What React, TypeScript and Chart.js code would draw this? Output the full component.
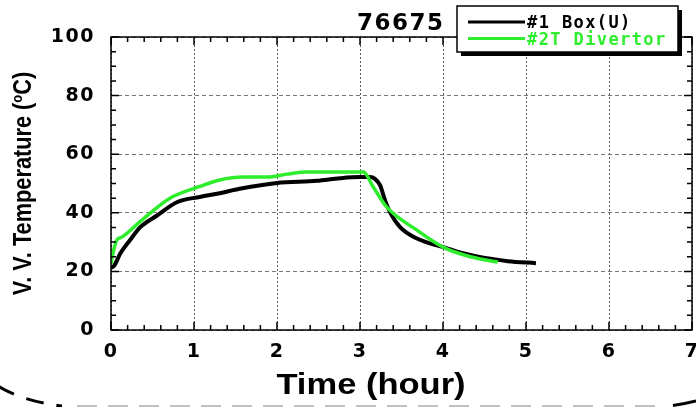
import { useEffect, useRef } from "react";
import { Chart, registerables } from "chart.js";

Chart.register(...registerables);

// Vacuum-vessel temperature during the bake, shot 76675
const shotNumber = "76675";
const seriesNames = ["#1 Box(U)", "#2T Divertor"];
const seriesColors = ["#000000", "#2ded2d"];

// #1 Box(U)
const boxTime = [0, 0.04, 0.11, 0.23, 0.35, 0.55, 0.8, 1.07, 1.31, 1.55, 2.0, 2.48, 2.76, 3.0, 3.12, 3.18, 3.24, 3.3, 3.36, 3.48, 3.68, 4.0, 4.24, 4.38, 4.78, 5.12];
const boxTemp = [21.2, 22, 26, 30.7, 35, 39, 43.7, 45.4, 46.7, 48.2, 50.2, 50.9, 51.8, 52.2, 52.2, 51.6, 49.5, 44.4, 40.3, 35.2, 31.3, 28.3, 26.2, 25.3, 23.5, 22.8];

// #2T Divertor
const divTime = [0, 0.03, 0.07, 0.13, 0.35, 0.71, 1.07, 1.31, 1.59, 1.88, 2.12, 2.36, 3.04, 3.16, 3.32, 3.69, 4.0, 4.33, 4.66];
const divTemp = [22.5, 27, 30.7, 31.7, 37, 45, 49, 51.2, 52.2, 52.2, 53.2, 53.9, 53.9, 48.8, 42, 34, 28.3, 25, 23.2];

// Axis ranges and tick steps
const xMin = 0, xMax = 7, xStep = 1, xMinorStep = 0.2;
const yMin = 0, yMax = 100, yStep = 20, yMinorStep = 5;
const xTitle = "Time (hour)";
const yTitleMain = "V. V. Temperature (";
const yTitleSup = "o";
const yTitleEnd = "C)";

const W = 696;
const H = 407;

const toPoints = (xs: number[], ys: number[]) => xs.map((x, i) => ({ x, y: ys[i] }));

const tickFont = { family: "'DejaVu Sans'", weight: "bold" as const, size: 19 };

const framePlugin = {
  id: "frameAndTicks",
  beforeDraw(chart: any) {
    chart.ctx.letterSpacing = "1.5px";
  },
  afterDatasetsDraw(chart: any) {
    const { ctx, chartArea } = chart;
    const { left, right, top, bottom } = chartArea;
    const xs = chart.scales.x;
    const ys = chart.scales.y;
    ctx.save();
    ctx.strokeStyle = "#000";
    ctx.lineWidth = 1.5;
    ctx.setLineDash([]);
    ctx.beginPath();
    const nx = Math.round((xMax - xMin) / xMinorStep);
    for (let i = 0; i <= nx; i++) {
      const v = xMin + i * xMinorStep;
      const px = xs.getPixelForValue(v);
      const len = i % Math.round(xStep / xMinorStep) === 0 ? 8 : 5;
      ctx.moveTo(px, bottom);
      ctx.lineTo(px, bottom - len);
      ctx.moveTo(px, top);
      ctx.lineTo(px, top + len);
    }
    const ny = Math.round((yMax - yMin) / yMinorStep);
    for (let i = 0; i <= ny; i++) {
      const v = yMin + i * yMinorStep;
      const py = ys.getPixelForValue(v);
      const len = i % Math.round(yStep / yMinorStep) === 0 ? 8 : 5;
      ctx.moveTo(left, py);
      ctx.lineTo(left + len, py);
      ctx.moveTo(right, py);
      ctx.lineTo(right - len, py);
    }
    ctx.stroke();
    ctx.strokeRect(left, top, right - left, bottom - top);
    ctx.restore();
  },
  afterDraw(chart: any) {
    const { ctx, chartArea } = chart;
    const { top, bottom } = chartArea;
    ctx.save();
    ctx.setLineDash([]);
    ctx.fillStyle = "#000";

    // y-axis title, rotated, with superscript degree mark
    ctx.letterSpacing = "0px";
    ctx.save();
    ctx.translate(22, (top + bottom) / 2);
    ctx.rotate(-Math.PI / 2);
    ctx.scale(0.87, 1);
    const mainFont = "bold 25px 'Liberation Sans'";
    const supFont = "bold 15px 'Liberation Sans'";
    ctx.font = mainFont;
    const wa = ctx.measureText(yTitleMain).width;
    const wc = ctx.measureText(yTitleEnd).width;
    ctx.font = supFont;
    const wo = ctx.measureText(yTitleSup).width;
    const total = wa + wo + wc;
    const base = 9;
    let x0 = -total / 2;
    ctx.textBaseline = "alphabetic";
    ctx.textAlign = "left";
    ctx.font = mainFont;
    ctx.fillText(yTitleMain, x0, base);
    x0 += wa;
    ctx.font = supFont;
    ctx.fillText(yTitleSup, x0, base - 9);
    x0 += wo;
    ctx.font = mainFont;
    ctx.fillText(yTitleEnd, x0, base);
    ctx.restore();

    // x-axis title
    ctx.save();
    ctx.translate(371, 394);
    ctx.scale(1.19, 1);
    ctx.font = "bold 29px 'Liberation Sans'";
    ctx.textAlign = "center";
    ctx.textBaseline = "alphabetic";
    ctx.fillText(xTitle, 0, 0);
    ctx.restore();

    // shot number
    ctx.font = "bold 23px 'DejaVu Sans'";
    ctx.letterSpacing = "1.5px";
    ctx.textAlign = "left";
    ctx.textBaseline = "alphabetic";
    ctx.fillText(shotNumber, 357, 30);

    // legend box with drop shadow
    const bx = 457, by = 6, bw = 221, bh = 46;
    ctx.fillStyle = "#000";
    ctx.fillRect(bx + 4, by + 4, bw, bh);
    ctx.fillStyle = "#fff";
    ctx.fillRect(bx, by, bw, bh);
    ctx.strokeStyle = "#000";
    ctx.lineWidth = 1.5;
    ctx.strokeRect(bx, by, bw, bh);
    ctx.font = "bold 17px 'DejaVu Sans Mono'";
    ctx.letterSpacing = "1.4px";
    const rows = [22, 38.5];
    chart.data.datasets.forEach((ds: any, i: number) => {
      const idx = seriesNames.indexOf(ds.label);
      const ry = rows[idx];
      ctx.strokeStyle = ds.borderColor;
      ctx.lineWidth = 3;
      ctx.beginPath();
      ctx.moveTo(468, ry);
      ctx.lineTo(525, ry);
      ctx.stroke();
      ctx.fillStyle = ds.borderColor;
      ctx.fillText(ds.label, 527, ry + 6.3);
    });
    ctx.letterSpacing = "0px";

    // dashed rounded outline along the bottom edge
    ctx.strokeStyle = "#000";
    ctx.lineWidth = 3;
    ctx.setLineDash([18, 13]);
    ctx.beginPath();
    ctx.moveTo(-2, 386);
    ctx.quadraticCurveTo(22, 401, 62, 406);
    ctx.stroke();
    ctx.strokeStyle = "#c2c2c2";
    ctx.lineWidth = 2;
    ctx.setLineDash([20, 11]);
    ctx.beginPath();
    ctx.moveTo(77, 406);
    ctx.lineTo(660, 406);
    ctx.stroke();
    ctx.setLineDash([]);
    ctx.strokeStyle = "#000";
    ctx.lineWidth = 3;
    ctx.beginPath();
    ctx.moveTo(673, 405.5);
    ctx.quadraticCurveTo(684, 404, 696, 401);
    ctx.stroke();
    ctx.restore();
  },
};

export default function App() {
  const canvasRef = useRef<HTMLCanvasElement | null>(null);

  useEffect(() => {
    const canvas = canvasRef.current;
    if (!canvas) return;
    const chart = new Chart(canvas, {
      type: "line",
      data: {
        datasets: [
          {
            label: seriesNames[0],
            data: toPoints(boxTime, boxTemp),
            borderColor: seriesColors[0],
            borderWidth: 4,
            pointRadius: 0,
            cubicInterpolationMode: "monotone",
            order: 1,
          },
          {
            label: seriesNames[1],
            data: toPoints(divTime, divTemp),
            borderColor: seriesColors[1],
            borderWidth: 3.5,
            pointRadius: 0,
            cubicInterpolationMode: "monotone",
            order: 0,
          },
        ],
      },
      options: {
        animation: false,
        responsive: false,
        devicePixelRatio: 1,
        events: [],
        layout: { padding: { top: 37, right: 4, left: 0, bottom: 0 } },
        plugins: {
          legend: { display: false },
          tooltip: { enabled: false },
        },
        scales: {
          x: {
            type: "linear",
            min: xMin,
            max: xMax,
            ticks: {
              stepSize: xStep,
              font: tickFont,
              color: "#000",
              padding: 11,
              maxRotation: 0,
              autoSkip: false,
            },
            grid: { color: "#555", drawTicks: false, lineWidth: 1 },
            border: { display: false, dash: [2, 2] },
            afterFit: (s: any) => {
              s.height = 77;
              s.paddingLeft = 0;
              s.paddingRight = 0;
            },
          },
          y: {
            type: "linear",
            min: yMin,
            max: yMax,
            ticks: {
              stepSize: yStep,
              font: tickFont,
              color: "#000",
              padding: 16,
            },
            grid: { color: "#777", drawTicks: false, lineWidth: 1 },
            border: { display: false, dash: [4, 3] },
            afterFit: (s: any) => {
              s.width = 111;
              s.paddingTop = 0;
              s.paddingBottom = 0;
            },
          },
        },
      },
      plugins: [framePlugin],
    });
    return () => chart.destroy();
  }, []);

  return (
    <div style={{ position: "fixed", left: 0, top: 0, width: W, height: H, background: "#fff" }}>
      <canvas ref={canvasRef} width={W} height={H} style={{ display: "block", width: W, height: H }} />
    </div>
  );
}
